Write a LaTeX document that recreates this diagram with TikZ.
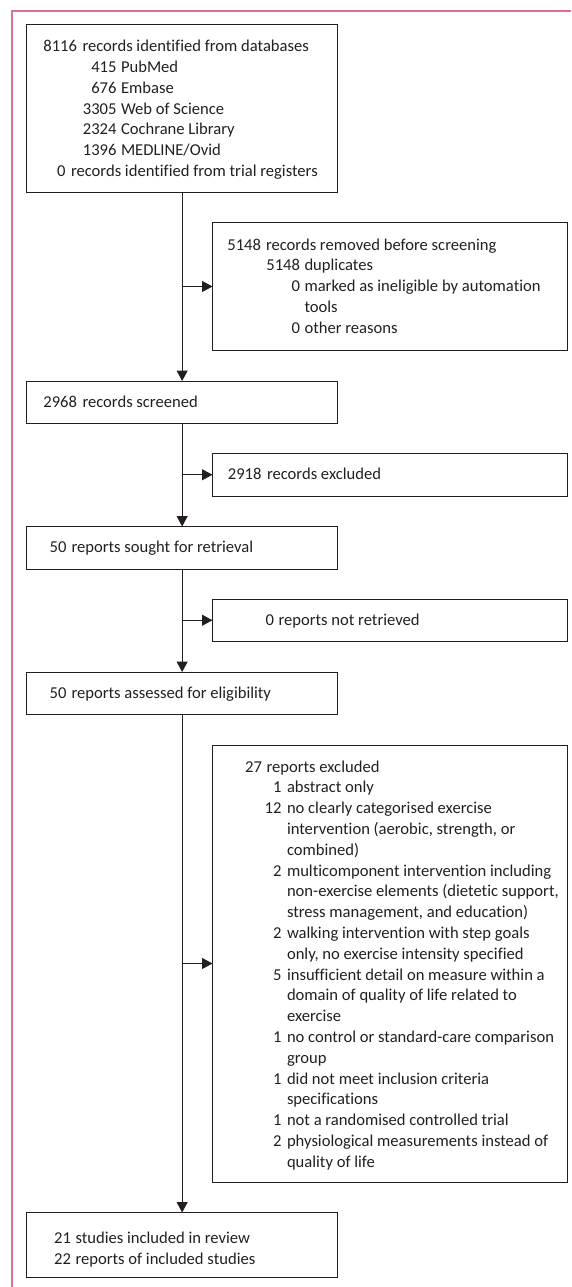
\documentclass[tikz,border=0pt]{standalone}
\usepackage{fontspec}
\setmainfont{Carlito}[Ligatures=NoCommon]
\usetikzlibrary{arrows.meta}
\definecolor{ink}{RGB}{35,31,32}
\definecolor{framepink}{RGB}{222,112,148}
\newcommand\lineNT[6]{%
  \node[txt, anchor=base east] (#1n) at (#2,#4+5) {#5};
  \node[txt, anchor=base west] (#1t) at (#3,#4+5) {#6};}
\newcommand\lineT[4]{%
  \node[txt, anchor=base west] (#1t) at (#2,#3+5) {#4};}
\begin{document}
\begin{tikzpicture}[x=1pt,y=-1pt,
  box/.style={draw=ink, line width=1pt, rectangle, inner sep=0pt, outer sep=0pt},
  lbox/.style={box, minimum width=311.1pt},
  rbox/.style={box, minimum width=355pt},
  txt/.style={inner sep=0pt, outer sep=0pt, text=ink, font=\fontsize{16.6}{20.8}\selectfont},
  arr/.style={draw=ink, line width=1pt, -{Triangle[length=10.5pt,width=11pt]}},
  frame/.style={draw=framepink, line width=1.5pt}]
\useasboundingbox (0,0) rectangle (571,1287);
% frame
\coordinate (fr1) at (571,11);
\coordinate (fr2) at (12,11);
\coordinate (fr3) at (12,1287);
\draw[frame] (fr1) -- (fr2) -- (fr3);
% boxes
\node[lbox, minimum height=167.5pt] (b1) at (182.15,108.75) {};
\node[rbox, minimum height=127.6pt] (b2) at (390,286.5) {};
\node[lbox, minimum height=42.5pt] (b3) at (182.15,402.25) {};
\node[rbox, minimum height=42.5pt] (b4) at (390,474.75) {};
\node[lbox, minimum height=42.5pt] (b5) at (182.15,547.75) {};
\node[rbox, minimum height=42.5pt] (b6) at (390,620.25) {};
\node[lbox, minimum height=42.5pt] (b7) at (182.15,693.25) {};
\node[rbox, minimum height=437pt] (b8) at (390,963.5) {};
\node[lbox, minimum height=64.5pt] (b9) at (182.15,1244.75) {};
% box 1
\lineNT{a1}{77}{82.5}{46.7}{8116}{records identified from databases}
\lineNT{a2}{116.5}{121}{67.5}{415}{PubMed}
\lineNT{a3}{116.5}{121}{88.3}{676}{Embase}
\lineNT{a4}{116.5}{121}{109.1}{3305}{Web of Science}
\lineNT{a5}{116.5}{121}{129.9}{2324}{Cochrane Library}
\lineNT{a6}{116.5}{121}{150.7}{1396}{MEDLINE/Ovid}
\lineNT{a7}{65.5}{71}{171.5}{0}{records identified from trial registers}
% box 2
\lineNT{c1}{261}{266}{245}{5148}{records removed before screening}
\lineNT{c2}{300}{304.5}{265.8}{5148}{duplicates}
\lineNT{c3}{300}{304.5}{286.6}{0}{marked as ineligible by automation}
\lineT{c4}{304.5}{307.4}{tools}
\lineNT{c5}{300}{304.5}{328.2}{0}{other reasons}
% single-line boxes
\lineNT{d1}{77}{82.5}{402.25}{2968}{records screened}
\lineNT{e1}{261.5}{267}{474.75}{2918}{records excluded}
\lineNT{f1}{66.5}{71.5}{547.75}{50}{reports sought for retrieval}
\lineNT{g1}{274}{278.5}{620.25}{0}{reports not retrieved}
\lineNT{h1}{66.5}{71.5}{693.25}{50}{reports assessed for eligibility}
% box 8
\lineNT{k0}{262}{266.5}{767}{27}{reports excluded}
\lineNT{k1}{281.5}{287}{787.8}{1}{abstract only}
\lineNT{k2}{281.5}{287}{808.6}{12}{no clearly categorised exercise}
\lineT{k3}{287}{829.4}{intervention (aerobic, strength, or}
\lineT{k4}{287}{850.2}{combined)}
\lineNT{k5}{281.5}{287}{871}{2}{multicomponent intervention including}
\lineT{k6}{287}{891.8}{non-exercise elements (dietetic support,}
\lineT{k7}{287}{912.6}{stress management, and education)}
\lineNT{k8}{281.5}{287}{933.4}{2}{walking intervention with step goals}
\lineT{k9}{287}{954.2}{only, no exercise intensity specified}
\lineNT{k10}{281.5}{287}{975}{5}{insufficient detail on measure within a}
\lineT{k11}{287}{995.8}{domain of quality of life related to}
\lineT{k12}{287}{1016.6}{exercise}
\lineNT{k13}{281.5}{287}{1037.4}{1}{no control or standard-care comparison}
\lineT{k14}{287}{1058.2}{group}
\lineNT{k15}{281.5}{287}{1079}{1}{did not meet inclusion criteria}
\lineT{k16}{287}{1099.8}{specifications}
\lineNT{k17}{281.5}{287}{1120.6}{1}{not a randomised controlled trial}
\lineNT{k18}{281.5}{287}{1141.4}{2}{physiological measurements instead of}
\lineT{k19}{287}{1162.2}{quality of life}
% box 9
\lineNT{m1}{71}{75.5}{1238.5}{21}{studies included in review}
\lineNT{m2}{71}{75.5}{1259.3}{22}{reports of included studies}
% connectors
\draw[arr] (b1.south) -- (b3.north);
\draw[arr] (b3.south) -- (b5.north);
\draw[arr] (b5.south) -- (b7.north);
\draw[arr] (b7.south) -- (b9.north);
\draw[arr] (b1.south |- b2.west) -- (b2.west);
\draw[arr] (b3.south |- b4.west) -- (b4.west);
\draw[arr] (b5.south |- b6.west) -- (b6.west);
\draw[arr] (b7.south |- b8.west) -- (b8.west);
\end{tikzpicture}
\end{document}
